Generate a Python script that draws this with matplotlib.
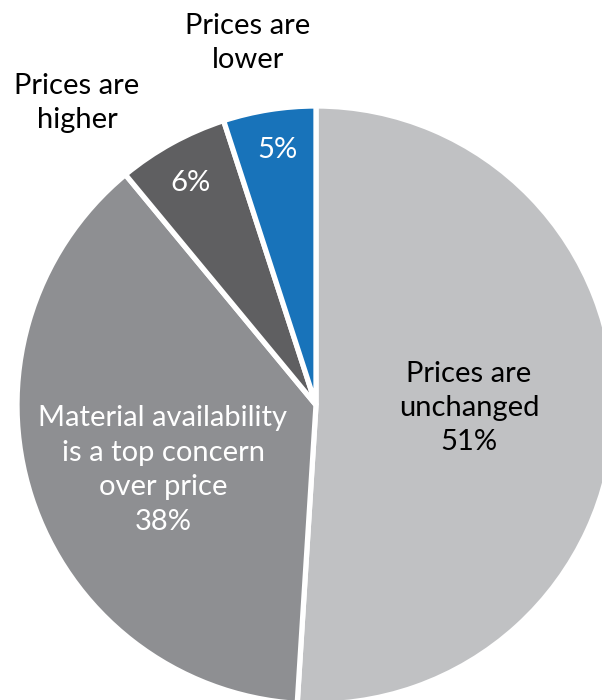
import matplotlib
matplotlib.use("Agg")
import matplotlib.pyplot as plt

labels = ["Prices are unchanged", "Material availability is a top concern over price",
          "Prices are higher", "Prices are lower"]
values = [51, 38, 6, 5]
colors = ["#c0c1c3", "#8e8f92", "#5f5f61", "#1873ba"]

plt.rcParams['font.family'] = ['Lato', 'DejaVu Sans']

fig = plt.figure(figsize=(6.02, 7.0), dpi=100)
ax = fig.add_axes([0, 0, 1, 1])
H = 700
cx, cy, R = 316, H - 405, 299
ax.pie(values, colors=colors, startangle=90, counterclock=False,
       center=(cx, cy), radius=R, frame=True,
       wedgeprops=dict(edgecolor="white", linewidth=3.8))
ax.set_xlim(0, 602)
ax.set_ylim(0, H)
ax.set_aspect("equal")
ax.axis("off")

fs = 21
kw = dict(ha="center", va="center", fontsize=fs, fontweight="normal", linespacing=1.4)
ax.text(248, H - 43, "Prices are\nlower", color="black", **kw)
ax.text(77, H - 103, "Prices are\nhigher", color="black", **kw)
ax.text(277, H - 150, f"{values[3]}%", color="white", **kw)
ax.text(190, H - 183, f"{values[2]}%", color="white", **kw)
ax.text(469, H - 408, f"Prices are\nunchanged\n{values[0]}%", color="black", **kw)
ax.text(163, H - 470, f"Material availability\nis a top concern\nover price\n{values[1]}%",
        color="white", **kw)

fig.savefig("out.png", dpi=100)
